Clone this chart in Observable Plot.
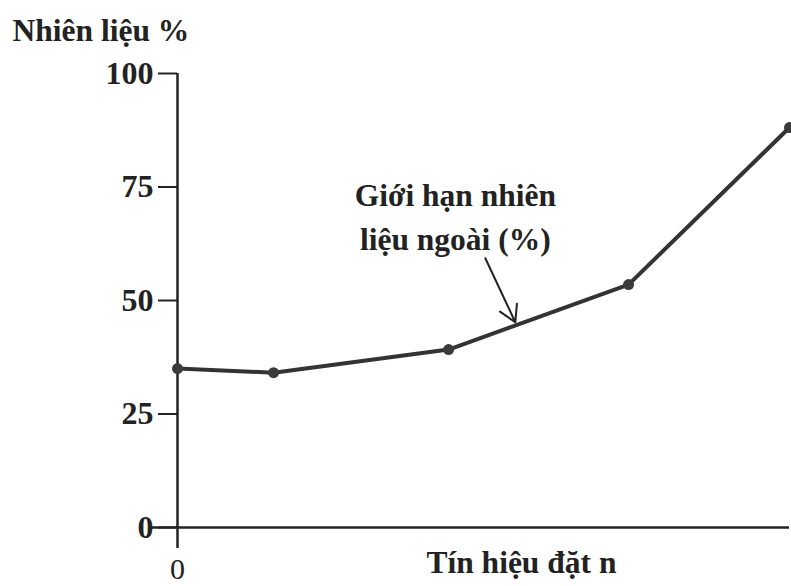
<!DOCTYPE html>
<html>
<head>
<meta charset="utf-8">
<script src="https://cdn.jsdelivr.net/npm/d3@7"></script>
<script src="https://cdn.jsdelivr.net/npm/@observablehq/plot@0.6"></script>
<style>
  html, body { margin: 0; padding: 0; background: #fff; }
</style>
</head>
<body>
<div id="chart"></div>
<script>
// ---- data ----
const signalX = [0, 15.7, 44.3, 73.7, 100];
const fuelPct = [35.0, 34.1, 39.2, 53.5, 88.1];
const yTicks = [0, 25, 50, 75, 100];
const xTicks = [0];
const titleText = ["Nhiên liệu %"];
const xLabelText = ["Tín hiệu đặt n"];
const annotationText = ["Giới hạn nhiên\nliệu ngoài (%)"];
const annotationAt = [45.4, 69.0];
const arrowFrom = [50.3, 59.3];
const arrowTo = [55.2, 45.2];

const points = signalX.map((x, i) => ({x, y: fuelPct[i]}));
const font = "'Liberation Serif', 'Times New Roman', serif";
const ink = "#222";

const chart = Plot.plot({
  width: 791,
  height: 586,
  marginLeft: 177,
  marginRight: 2,
  marginTop: 73,
  marginBottom: 59,
  style: {fontFamily: font, fontSize: "32px", color: ink, background: "#fff"},
  x: {domain: [0, 100]},
  y: {domain: [0, 100]},
  marks: [
    Plot.axisY({ticks: yTicks, tickSize: 19, tickPadding: 5, fontWeight: "bold", fontSize: 32, strokeWidth: 2, label: null}),
    Plot.axisX({ticks: xTicks, tickSize: 0, tickPadding: 30, fontSize: 30, label: null}),
    // axis lines
    Plot.ruleX([0], {y1: -4.6, y2: 100, stroke: ink, strokeWidth: 2.5}),
    Plot.ruleY([0], {x1: -4.4, x2: 100, stroke: ink, strokeWidth: 2.5}),
    // data line
    Plot.line(points, {x: "x", y: "y", stroke: "#333", strokeWidth: 4}),
    Plot.dot(points, {x: "x", y: "y", r: 5.5, fill: "#3a3a3a"}),
    // annotation
    Plot.text(annotationText, {x: () => annotationAt[0], y: () => annotationAt[1], text: d => d, fontWeight: "bold", fontSize: 31.5, lineHeight: 1.37, fill: ink}),
    Plot.arrow([0], {x1: () => arrowFrom[0], y1: () => arrowFrom[1], x2: () => arrowTo[0], y2: () => arrowTo[1], stroke: ink, strokeWidth: 2, headLength: 14, bend: 0}),
    // titles
    Plot.text(titleText, {frameAnchor: "top-left", lineAnchor: "middle", text: d => d, textAnchor: "start", dx: -165, dy: -43, fontWeight: "bold", fontSize: 31.5, fill: ink}),
    Plot.text(xLabelText, {x: () => 56.2, frameAnchor: "bottom", lineAnchor: "middle", text: d => d, dy: 35, fontWeight: "bold", fontSize: 31.5, fill: ink})
  ]
});
document.getElementById("chart").appendChild(chart);
</script>
</body>
</html>
